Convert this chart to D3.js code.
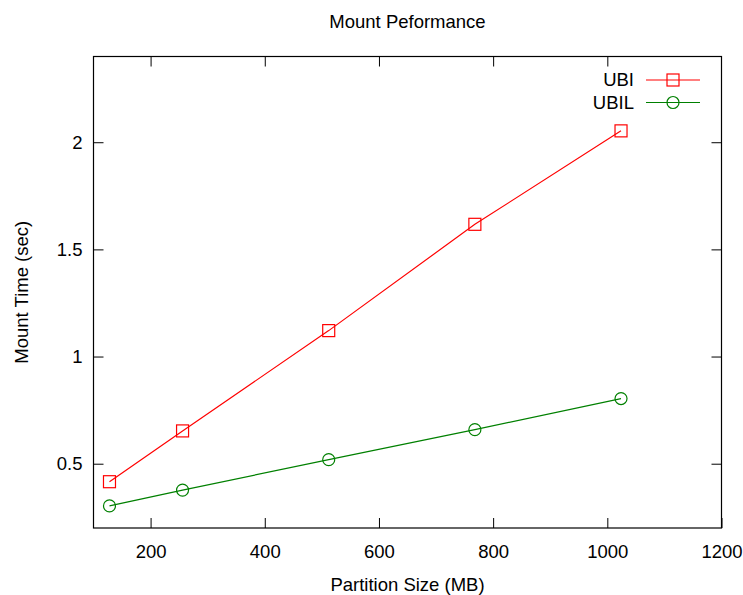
<!DOCTYPE html>
<html>
<head>
<meta charset="utf-8">
<script src="https://cdn.jsdelivr.net/npm/d3@7"></script>
<style>
  body { margin: 0; background: #fff; }
  text { font-family: "Liberation Sans", Arial, sans-serif; fill: #000; }
</style>
</head>
<body>
<div id="chart"></div>
<script>
// data
var sizes = [128, 256, 512, 768, 1024];
var ubi = [0.416, 0.653, 1.121, 1.617, 2.053];
var ubil = [0.303, 0.377, 0.519, 0.659, 0.804];
var xTicks = [200, 400, 600, 800, 1000, 1200];
var yTicks = [0.5, 1, 1.5, 2];

const width = 743, height = 595;
const m = {left: 93.5, right: 21.5, top: 56.5, bottom: 67};
const fontSize = "18.5px";

const svg = d3.select("#chart").append("svg")
    .attr("width", width)
    .attr("height", height);

const x = d3.scaleLinear().domain([100, 1200]).range([m.left, width - m.right]);
const y = d3.scaleLinear().domain([0.2, 2.4]).range([height - m.bottom, m.top]);

//title
svg.append("text")
    .attr("x", (m.left + width - m.right) / 2)
    .attr("y", 28)
    .attr("text-anchor", "middle")
    .style("font-size", fontSize)
    .text("Mount Peformance");

// axes, ticks pointing inside, mirrored on top and right
const tickLen = 10;
svg.append("g")
    .attr("transform", "translate(0," + y.range()[0] + ")")
    .call(d3.axisBottom(x).tickValues(xTicks).tickSize(-tickLen).tickPadding(17).tickFormat(d3.format("d")))
    .call(g => g.select(".domain").remove());
svg.append("g")
    .attr("transform", "translate(0," + y.range()[1] + ")")
    .call(d3.axisTop(x).tickValues(xTicks.slice(0, -1)).tickSize(-tickLen).tickFormat(""))
    .call(g => g.select(".domain").remove());
svg.append("g")
    .attr("transform", "translate(" + x.range()[0] + ",0)")
    .call(d3.axisLeft(y).tickValues(yTicks).tickSize(-tickLen).tickPadding(11).tickFormat(d => d))
    .call(g => g.select(".domain").remove());
svg.append("g")
    .attr("transform", "translate(" + x.range()[1] + ",0)")
    .call(d3.axisRight(y).tickValues(yTicks).tickSize(-tickLen).tickFormat(""))
    .call(g => g.select(".domain").remove());

svg.selectAll(".tick text")
    .style("font-family", "Liberation Sans, Arial, sans-serif")
    .style("font-size", fontSize)
    .attr("fill", "#000");
svg.selectAll(".tick line").attr("stroke", "#000").attr("stroke-width", 1);

// frame
svg.append("rect")
    .attr("x", x.range()[0])
    .attr("y", y.range()[1])
    .attr("width", x.range()[1] - x.range()[0])
    .attr("height", y.range()[0] - y.range()[1])
    .attr("fill", "none")
    .attr("stroke", "#000")
    .attr("stroke-width", 1.2);

// axis labels
svg.append("text")
    .attr("x", (m.left + width - m.right) / 2)
    .attr("y", 591)
    .attr("text-anchor", "middle")
    .style("font-size", fontSize)
    .text("Partition Size (MB)");

svg.append("text")
    .attr("transform", "translate(28," + (y.range()[0] + y.range()[1]) / 2 + ") rotate(-90)")
    .attr("text-anchor", "middle")
    .style("font-size", fontSize)
    .text("Mount Time (sec)");

var series = [
    {name: "UBI", values: ubi, color: "#ff0000", shape: "square"},
    {name: "UBIL", values: ubil, color: "#008000", shape: "circle"}
];

const line = d3.line().x(d => x(d[0])).y(d => y(d[1]));

function marker(g, shape, color) {
    if (shape == "square") {
        g.append("rect")
            .attr("x", -6).attr("y", -6)
            .attr("width", 12).attr("height", 12)
            .attr("fill", "none").attr("stroke", color).attr("stroke-width", 1.2);
    } else {
        g.append("circle")
            .attr("r", 6)
            .attr("fill", "none").attr("stroke", color).attr("stroke-width", 1.2);
    }
}

series.forEach(function(s, k) {
    var pts = sizes.map((v, i) => [v, s.values[i]]);
    svg.append("path")
        .datum(pts)
        .attr("d", line)
        .attr("fill", "none")
        .attr("stroke", s.color)
        .attr("stroke-width", 1.2);
    pts.forEach(function(p) {
        var g = svg.append("g").attr("transform", "translate(" + x(p[0]) + "," + y(p[1]) + ")");
        marker(g, s.shape, s.color);
    });

    // legend
    var ly = 80 + k * 22.5;
    svg.append("text")
        .attr("x", 634)
        .attr("y", ly + 6.3)
        .attr("text-anchor", "end")
        .style("font-size", fontSize)
        .text(s.name);
    svg.append("line")
        .attr("x1", 646).attr("x2", 700)
        .attr("y1", ly).attr("y2", ly)
        .attr("stroke", s.color)
        .attr("stroke-width", 1.2);
    marker(svg.append("g").attr("transform", "translate(673," + ly + ")"), s.shape, s.color);
});
</script>
</body>
</html>
